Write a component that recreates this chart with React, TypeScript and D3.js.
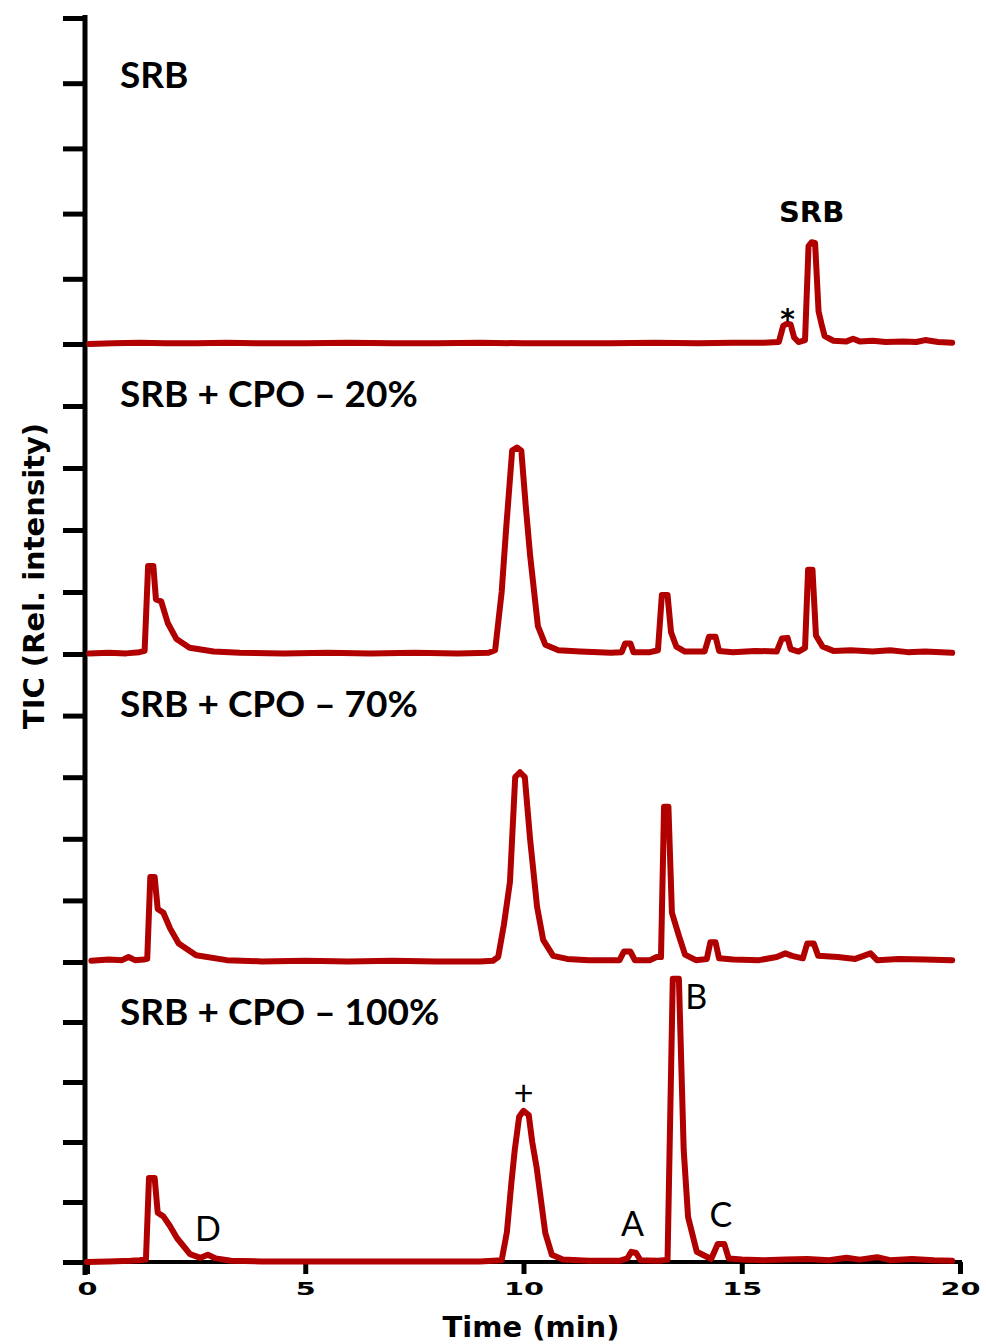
import React, { useEffect, useRef } from "react"
import * as d3 from "d3"

// time (min), intensity in tick units of each panel
const srb: [number, number][] = [
  [0.05, 0], [0.6, 0.01], [1.2, 0.02], [1.8, 0.01], [2.5, 0.01], [3.2, 0.02], [4, 0.01], [5, 0.01],
  [6, 0.02], [7, 0.01], [8, 0.01], [9, 0.02], [10, 0.01], [11, 0.01], [12, 0.01], [13, 0.02],
  [14, 0.01], [14.8, 0.02], [15.5, 0.02], [15.85, 0.03], [15.95, 0.28], [16.03, 0.31], [16.12, 0.3],
  [16.2, 0.1], [16.3, 0.03], [16.45, 0.06], [16.53, 1.5], [16.6, 1.56], [16.68, 1.55], [16.76, 0.5],
  [16.83, 0.3], [16.9, 0.12], [17.1, 0.05], [17.4, 0.04], [17.55, 0.08], [17.7, 0.04], [18.0, 0.05],
  [18.3, 0.03], [18.7, 0.04], [19.0, 0.03], [19.2, 0.06], [19.5, 0.03], [19.82, 0.02],
]

const cpo20: [number, number][] = [
  [0.05, 0.01], [0.5, 0.02], [0.9, 0.01], [1.2, 0.03], [1.32, 0.05], [1.4, 1.42], [1.52, 1.42],
  [1.58, 0.88], [1.7, 0.85], [1.85, 0.5], [2.05, 0.24], [2.35, 0.1], [2.9, 0.04], [3.5, 0.02],
  [4.5, 0.01], [5.5, 0.02], [6.5, 0.01], [7.5, 0.02], [8.5, 0.01], [9.2, 0.02], [9.35, 0.06],
  [9.5, 1.0], [9.6, 2.0], [9.74, 3.28], [9.85, 3.33], [9.95, 3.28], [10.05, 2.4], [10.15, 1.6],
  [10.33, 0.45], [10.5, 0.15], [10.8, 0.06], [11.3, 0.04], [12.0, 0.02], [12.25, 0.03], [12.33, 0.17],
  [12.45, 0.17], [12.52, 0.03], [12.9, 0.03], [13.08, 0.06], [13.17, 0.95], [13.3, 0.95], [13.38, 0.35],
  [13.5, 0.12], [13.7, 0.04], [14.15, 0.04], [14.25, 0.28], [14.4, 0.28], [14.48, 0.05], [14.8, 0.03],
  [15.3, 0.05], [15.8, 0.04], [15.92, 0.25], [16.05, 0.26], [16.12, 0.08], [16.3, 0.04], [16.45, 0.1],
  [16.52, 1.36], [16.62, 1.36], [16.7, 0.3], [16.85, 0.12], [17.1, 0.05], [17.5, 0.06], [18.0, 0.04],
  [18.4, 0.06], [18.8, 0.03], [19.2, 0.04], [19.82, 0.02],
]

const cpo70: [number, number][] = [
  [0.1, 0.02], [0.5, 0.04], [0.8, 0.03], [0.95, 0.08], [1.1, 0.03], [1.3, 0.04], [1.38, 0.05],
  [1.45, 1.38], [1.55, 1.38], [1.62, 0.86], [1.75, 0.8], [1.9, 0.55], [2.1, 0.3], [2.5, 0.11],
  [3.2, 0.03], [4, 0.01], [5, 0.02], [6, 0.01], [7, 0.02], [8, 0.01], [9, 0.01], [9.3, 0.02],
  [9.42, 0.08], [9.55, 0.6], [9.69, 1.3], [9.81, 3.0], [9.92, 3.08], [10.03, 3.0], [10.15, 2.0],
  [10.31, 0.9], [10.45, 0.36], [10.68, 0.1], [11, 0.05], [11.5, 0.03], [12.2, 0.03], [12.3, 0.17],
  [12.45, 0.17], [12.55, 0.03], [12.9, 0.03], [13.05, 0.08], [13.15, 0.08], [13.22, 2.52], [13.32, 2.52],
  [13.4, 0.8], [13.55, 0.45], [13.7, 0.12], [13.95, 0.03], [14.2, 0.05], [14.28, 0.32], [14.4, 0.32],
  [14.48, 0.06], [14.8, 0.04], [15.4, 0.03], [15.8, 0.08], [16.0, 0.14], [16.15, 0.1], [16.4, 0.06],
  [16.5, 0.3], [16.65, 0.3], [16.75, 0.1], [17.2, 0.08], [17.6, 0.05], [17.95, 0.14], [18.1, 0.03],
  [18.6, 0.05], [19.2, 0.04], [19.82, 0.03],
]

const cpo100: [number, number][] = [
  [0, 0.0], [0.5, 0.01], [1.0, 0.02], [1.2, 0.03], [1.35, 0.04], [1.42, 1.4], [1.55, 1.4], [1.62, 0.82],
  [1.75, 0.76], [1.9, 0.6], [2.06, 0.4], [2.36, 0.13], [2.6, 0.07], [2.77, 0.12], [2.95, 0.06],
  [3.3, 0.02], [4, 0.01], [5, 0.01], [6, 0.01], [7, 0.01], [8, 0.01], [9, 0.01], [9.5, 0.03],
  [9.62, 0.5], [9.72, 1.3], [9.8, 1.87], [9.9, 2.42], [10.0, 2.52], [10.12, 2.45], [10.2, 2.0],
  [10.3, 1.58], [10.5, 0.48], [10.65, 0.12], [10.9, 0.04], [11.5, 0.02], [12.2, 0.02], [12.38, 0.06],
  [12.47, 0.17], [12.58, 0.15], [12.68, 0.03], [13.1, 0.02], [13.3, 0.04], [13.42, 4.72], [13.56, 4.72],
  [13.67, 1.87], [13.77, 0.75], [13.97, 0.17], [14.3, 0.05], [14.45, 0.3], [14.6, 0.3], [14.7, 0.06],
  [15, 0.04], [15.5, 0.03], [16, 0.04], [16.5, 0.05], [17, 0.03], [17.4, 0.07], [17.7, 0.04],
  [18.1, 0.08], [18.4, 0.03], [18.9, 0.05], [19.4, 0.03], [19.82, 0.02],
]

const traces = [srb, cpo20, cpo70, cpo100]
const panelTitles = ["SRB", "SRB + CPO \u2013 20%", "SRB + CPO \u2013 70%", "SRB + CPO \u2013 100%"]
const xTicks = [0, 5, 10, 15, 20]

// peak annotations: [panel, time, value, text]
const peakLabels: [number, number, number, string][] = [
  [3, 2.77, 0.12, "D"],
  [3, 12.5, 0.17, "A"],
  [3, 13.5, 4.72, "B"],
  [3, 14.52, 0.3, "C"],
  [3, 10.0, 2.52, "+"],
]

const panelBase = [344, 654, 962, 1262]
const panelTop = [18, 344, 654, 962]
const RED = "#b00000"

export default function App() {
  const ref = useRef<SVGSVGElement>(null)

  useEffect(() => {
    const svg = d3.select(ref.current)
    svg.selectAll("*").remove()

    const x = d3.scaleLinear().domain([0, 20]).range([87, 960])
    const yScales = panelBase.map((b, i) => d3.scaleLinear().domain([0, 5]).range([b, panelTop[i]]))

    // y ticks for each panel
    yScales.forEach((y) => {
      const g = svg.append("g").attr("transform", "translate(85,0)")
        .call(d3.axisLeft(y).ticks(5).tickSize(22).tickFormat(() => ""))
      g.select(".domain").remove()
      g.selectAll("line").attr("stroke", "#000").attr("stroke-width", 5)
    })

    // x axis
    const gx = svg.append("g").attr("transform", "translate(0,1262)")
      .call(d3.axisBottom(x).tickValues(xTicks).tickSize(12).tickSizeOuter(0).tickFormat(d3.format("d")))
    gx.select(".domain").attr("stroke", "#000").attr("stroke-width", 4).attr("d", "M85,0H962")
    gx.selectAll("line").attr("stroke", "#000").attr("stroke-width", 5)
    gx.selectAll("text")
      .attr("y", null).attr("dy", null)
      .attr("transform", "translate(0,33) scale(1.25,0.8)")
      .attr("fill", "#000")
      .style("font-family", "DejaVu Sans")
      .style("font-weight", "bold")
      .style("font-size", "23px")

    // y axis line
    svg.append("line").attr("x1", 85).attr("x2", 85).attr("y1", 15).attr("y2", 1275)
      .attr("stroke", "#000").attr("stroke-width", 5)

    const line = d3.line<[number, number]>()

    traces.forEach((tr, i) => {
      const y = yScales[i]
      line.x((d) => x(d[0])).y((d) => y(d[1]))
      svg.append("path").attr("d", line(tr))
        .attr("fill", "none").attr("stroke", RED).attr("stroke-width", 6)
        .attr("stroke-linejoin", "round").attr("stroke-linecap", "round")
    })

    // panel titles
    panelTitles.forEach((t, i) => {
      svg.append("text").text(t)
        .attr("x", 120).attr("y", panelTop[i] + (i === 0 ? 70 : 63))
        .style("font-family", "Lato").style("font-weight", "bold").style("font-size", "37px")
    })

    // SRB peak annotations in top panel
    svg.append("text").text("SRB").attr("x", x(16.6)).attr("y", yScales[0](1.56) - 20)
      .attr("text-anchor", "middle")
      .style("font-family", "DejaVu Sans").style("font-weight", "bold").style("font-size", "29px")
    svg.append("text").text("*").attr("x", x(16.05)).attr("y", yScales[0](0.31) + 5)
      .attr("text-anchor", "middle")
      .style("font-family", "DejaVu Sans").style("font-weight", "bold").style("font-size", "28px")

    peakLabels.forEach(([p, t, v, s]) => {
      const y = yScales[p]
      let px = x(t), py = y(v) - 16, anchor = "middle"
      if (s === "B") { px = x(t) + 9; py = y(v) + 30; anchor = "start" }
      if (s === "D") { px = x(t); py = y(v) - 14 }
      if (s === "+") { py = y(v) - 6 }
      if (s === "C") { py = y(v) - 17 }
      svg.append("text").text(s).attr("x", px).attr("y", py).attr("text-anchor", anchor)
        .style("font-family", "Lato").style("font-size", "34px")
    })

    // axis titles
    svg.append("text").text("Time (min)").attr("x", 531).attr("y", 1337)
      .attr("text-anchor", "middle")
      .style("font-family", "DejaVu Sans").style("font-weight", "bold").style("font-size", "29px")
    svg.append("text").text("TIC (Rel. intensity)")
      .attr("transform", "translate(44,576) rotate(-90)")
      .attr("text-anchor", "middle")
      .style("font-family", "DejaVu Sans").style("font-weight", "bold").style("font-size", "29px")
  }, [])

  return (
    <svg ref={ref} width={986} height={1344}
      style={{ position: "absolute", left: 0, top: 0, background: "#fff" }} />
  )
}
